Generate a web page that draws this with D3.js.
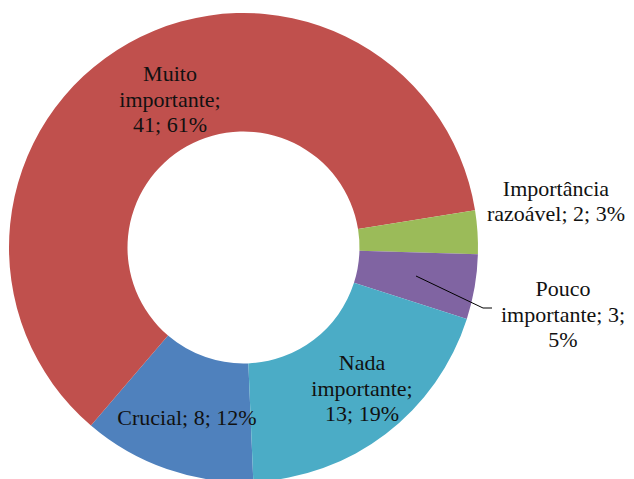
<!DOCTYPE html>
<html><head><meta charset="utf-8">
<script src="https://cdn.jsdelivr.net/npm/d3@7"></script>
<style>html,body{margin:0;padding:0;background:#fff;}svg{display:block;}</style>
</head><body>
<svg id="chart" width="634" height="479"></svg>
<script>
const categories = ["Crucial", "Muito importante", "Importância razoável", "Pouco importante", "Nada importante"];
const values = [8, 41, 2, 3, 13];
const percentLabels = ["12%", "61%", "3%", "5%", "19%"];
const colors = ["#4F81BD", "#C0504D", "#9BBB59", "#8064A2", "#4BACC6"];
const labelLines = [
  ["Crucial; 8; 12%"],
  ["Muito", "importante;", "41; 61%"],
  ["Importância", "razoável; 2; 3%"],
  ["Pouco", "importante; 3;", "5%"],
  ["Nada", "importante;", "13; 19%"]
];
const labelPos = [[187, 417], [170, 99], [556, 201], [563, 314], [362, 388]];

const svg = d3.select("#chart");
const cx = 243.5, cy = 247.5, R = 234.5, r = 116;
const start = 177.6 * Math.PI / 180;
const pie = d3.pie().sort(null).value(d => d).startAngle(start).endAngle(start + 2 * Math.PI);
const arcs = pie(values);
const arc = d3.arc().innerRadius(r).outerRadius(R);
const g = svg.append("g").attr("transform", `translate(${cx},${cy})`);
g.selectAll("path").data(arcs).enter().append("path")
  .attr("d", arc).attr("fill", (d, i) => colors[i]);

// leader line for "Pouco importante"
svg.append("polyline")
  .attr("points", "416,276 483,308 492,308")
  .attr("fill", "none").attr("stroke", "#000").attr("stroke-width", 1);

const lh = 25.5;
labelLines.forEach((lines, i) => {
  const [x, y] = labelPos[i];
  const t = svg.append("text")
    .attr("x", x)
    .attr("text-anchor", "middle")
    .attr("font-family", "'Liberation Serif', 'DejaVu Serif', serif")
    .attr("font-size", 22)
    .attr("fill", "#111");
  const y0 = y - (lines.length - 1) * lh / 2;
  lines.forEach((s, j) => {
    t.append("tspan").attr("x", x).attr("y", y0 + j * lh).attr("dy", "0.35em").text(s);
  });
});
</script>
</body></html>
